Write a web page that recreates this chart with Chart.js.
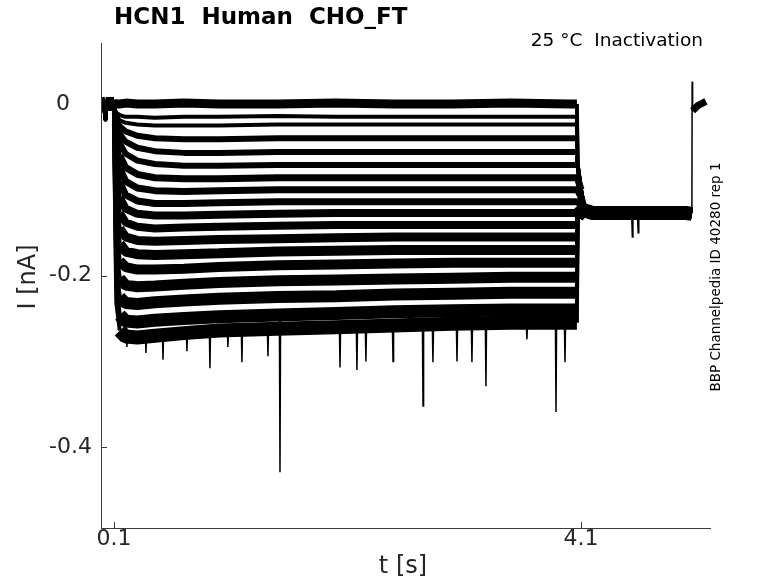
<!DOCTYPE html>
<html>
<head>
<meta charset="utf-8">
<title>HCN1 Human CHO_FT</title>
<script src="https://cdn.jsdelivr.net/npm/chart.js@4.4.1/dist/chart.umd.min.js"></script>
<style>
  html, body { margin: 0; padding: 0; background: #fff; }
  canvas { display: block; }
</style>
</head>
<body>
<canvas id="traces" width="778" height="583"></canvas>
<script>
// tick values and labels
const xTicks = [0.1, 4.1];
const xTickLabels = ['0.1', '4.1'];
const yTicks = [0, -0.2, -0.4];
const yTickLabels = ['0', '-0.2', '-0.4'];

// holding period before the step (s, nA), same for every sweep
const preT = [0, 0.02, 0.025, 0.03, 0.1];
const preI = [0, 0, -0.018, 0, 0];

// step times
const stepT = [0.105, 0.12, 0.15, 0.2, 0.3, 0.45, 0.7, 1.0, 1.5, 2.0, 2.5, 3.0, 3.5, 4.0, 4.065, 4.07, 4.1];

// one array per sweep (nA), top to bottom
const sweep1  = [0.001, 0, 0, 0.001, 0, 0, 0.001, 0, 0, 0.001, 0, 0, 0.001, 0, 0, -0.07, -0.1];
const sweep2  = [-0.006, -0.010, -0.013, -0.015, -0.015, -0.016, -0.015, -0.015, -0.014, -0.015, -0.015, -0.015, -0.015, -0.015, -0.015, -0.07, -0.1];
const sweep3  = [-0.008, -0.014, -0.019, -0.022, -0.024, -0.025, -0.025, -0.025, -0.024, -0.024, -0.024, -0.024, -0.024, -0.024, -0.024, -0.07, -0.1];
const sweep4  = [-0.010, -0.018, -0.026, -0.032, -0.037, -0.040, -0.041, -0.041, -0.040, -0.040, -0.040, -0.040, -0.040, -0.040, -0.040, -0.07, -0.1];
const sweep5  = [-0.012, -0.024, -0.035, -0.044, -0.051, -0.055, -0.057, -0.057, -0.056, -0.056, -0.056, -0.056, -0.056, -0.056, -0.056, -0.07, -0.1];
const sweep6  = [-0.014, -0.031, -0.046, -0.058, -0.066, -0.070, -0.072, -0.072, -0.071, -0.071, -0.071, -0.071, -0.071, -0.071, -0.071, -0.071, -0.1];
const sweep7  = [-0.016, -0.040, -0.060, -0.074, -0.082, -0.086, -0.087, -0.087, -0.086, -0.086, -0.086, -0.086, -0.086, -0.086, -0.086, -0.086, -0.1];
const sweep8  = [-0.019, -0.050, -0.075, -0.090, -0.098, -0.101, -0.102, -0.101, -0.100, -0.100, -0.100, -0.100, -0.100, -0.100, -0.100, -0.100, -0.108];
const sweep9  = [-0.022, -0.063, -0.091, -0.106, -0.113, -0.116, -0.116, -0.115, -0.114, -0.114, -0.114, -0.114, -0.114, -0.114, -0.114, -0.114, -0.118];
const sweep10 = [-0.026, -0.078, -0.109, -0.122, -0.128, -0.130, -0.130, -0.129, -0.128, -0.127, -0.127, -0.127, -0.127, -0.127, -0.127, -0.127, -0.125];
const sweep11 = [-0.030, -0.094, -0.127, -0.138, -0.143, -0.145, -0.144, -0.143, -0.142, -0.141, -0.141, -0.141, -0.141, -0.141, -0.141, -0.130, -0.126];
const sweep12 = [-0.035, -0.112, -0.145, -0.155, -0.159, -0.160, -0.159, -0.158, -0.157, -0.156, -0.155, -0.155, -0.155, -0.155, -0.155, -0.130, -0.126];
const sweep13 = [-0.040, -0.130, -0.163, -0.172, -0.175, -0.176, -0.175, -0.174, -0.172, -0.171, -0.170, -0.170, -0.170, -0.170, -0.170, -0.130, -0.126];
const sweep14 = [-0.046, -0.150, -0.183, -0.190, -0.193, -0.193, -0.192, -0.190, -0.188, -0.187, -0.186, -0.185, -0.185, -0.185, -0.185, -0.130, -0.126];
const sweep15 = [-0.053, -0.170, -0.203, -0.211, -0.213, -0.212, -0.210, -0.208, -0.206, -0.205, -0.204, -0.203, -0.202, -0.202, -0.202, -0.130, -0.126];
const sweep16 = [-0.060, -0.190, -0.225, -0.232, -0.233, -0.231, -0.229, -0.227, -0.225, -0.224, -0.222, -0.221, -0.220, -0.220, -0.220, -0.130, -0.126];
const sweep17 = [-0.068, -0.212, -0.246, -0.253, -0.254, -0.252, -0.250, -0.248, -0.246, -0.244, -0.242, -0.241, -0.240, -0.240, -0.240, -0.130, -0.126];
const sweep18 = [-0.076, -0.232, -0.264, -0.271, -0.272, -0.270, -0.267, -0.264, -0.262, -0.260, -0.258, -0.256, -0.255, -0.255, -0.255, -0.130, -0.126];

// tail after the step, shared by all sweeps
const tailT = [4.13, 4.2, 4.6, 5.0, 5.05];
const tailI = [-0.124, -0.127, -0.127, -0.127, -0.128];

// capacitive spike and return near 0 at the end
const endT = [5.05, 5.052, 5.056, 5.1, 5.17];
const endI = [-0.128, 0.026, -0.008, -0.002, 0.003];

// downward noise spikes: time, start level, tip
const spikeT    = [0.211, 0.374, 0.520, 0.725, 0.922, 1.076, 1.196, 1.419, 1.522, 2.036, 2.181, 2.258, 2.490, 2.747, 2.832, 3.038, 3.166, 3.286, 3.637, 3.886, 3.963, 4.54, 4.59];
const spikeFrom = [-0.27, -0.27, -0.268, -0.266, -0.265, -0.264, -0.264, -0.262, -0.250, -0.262, -0.262, -0.262, -0.261, -0.260, -0.260, -0.259, -0.258, -0.258, -0.257, -0.256, -0.256, -0.133, -0.133];
const spikeTo   = [-0.283, -0.290, -0.298, -0.288, -0.308, -0.283, -0.301, -0.294, -0.429, -0.307, -0.310, -0.300, -0.300, -0.352, -0.301, -0.300, -0.301, -0.329, -0.274, -0.359, -0.301, -0.155, -0.150];

const sweeps = [sweep1, sweep2, sweep3, sweep4, sweep5, sweep6, sweep7, sweep8, sweep9,
                sweep10, sweep11, sweep12, sweep13, sweep14, sweep15, sweep16, sweep17, sweep18];

// thickness stands in for the recording noise, which grows with the current
const lineWidths = [9, 4, 4, 6, 6, 6, 7, 7, 7, 8, 8, 9, 10, 10, 11, 12, 13, 14];

function toPoints(ts, vs) {
    return ts.map((t, i) => ({ x: t, y: vs[i] }));
}

// steep parts (jumps, fast activation) are drawn thinner so the bands keep sharp edges
function steepWidth(ctx) {
    const dx = Math.abs(ctx.p1.x - ctx.p0.x);
    const dy = Math.abs(ctx.p1.y - ctx.p0.y);
    return dy > 4 * dx ? 4 : undefined;
}

const datasets = sweeps.map((s, k) => ({
    data: toPoints(preT, preI).concat(toPoints(stepT, s), toPoints(tailT, tailI)),
    borderColor: '#000',
    borderWidth: lineWidths[k],
    borderJoinStyle: 'bevel',
    borderCapStyle: 'butt',
    segment: { borderWidth: steepWidth },
    pointRadius: 0,
    tension: 0
}));

// spikes, each one separated by a gap
const spikePts = [];
spikeT.forEach((t, i) => {
    spikePts.push({ x: t - 0.005, y: spikeFrom[i] }, { x: t, y: spikeTo[i] }, { x: t + 0.005, y: spikeFrom[i] }, { x: t + 0.006, y: null });
});
datasets.push({ data: spikePts, borderColor: '#000', borderWidth: 1.5, pointRadius: 0, spanGaps: false });

datasets.push({ data: toPoints(endT.slice(0, 3), endI.slice(0, 3)), borderColor: '#000', borderWidth: 1.5, pointRadius: 0 });
datasets.push({ data: toPoints(endT.slice(2), endI.slice(2)), borderColor: '#000', borderWidth: 7, borderCapStyle: 'butt', pointRadius: 0 });

const axisColor = '#3a3a3a';

// inward ticks, labels and all the text round the plot
const decor = {
    id: 'decor',
    beforeDatasetsDraw(chart) {
        const { ctx, scales: { x, y } } = chart;
        ctx.save();
        ctx.strokeStyle = axisColor;
        ctx.lineWidth = 1;
        ctx.beginPath();
        xTicks.forEach(v => {
            const px = Math.round(x.getPixelForValue(v)) + 0.5;
            ctx.moveTo(px, y.bottom);
            ctx.lineTo(px, y.bottom - 6);
        });
        yTicks.forEach(v => {
            const py = Math.round(y.getPixelForValue(v)) + 0.5;
            ctx.moveTo(x.left, py);
            ctx.lineTo(x.left + 6, py);
        });
        ctx.stroke();
        ctx.restore();
    },
    afterDraw(chart) {
        const { ctx, scales: { x, y } } = chart;
        ctx.save();
        ctx.fillStyle = '#262626';
        ctx.font = '22px "DejaVu Sans"';
        ctx.textBaseline = 'middle';
        ctx.textAlign = 'center';
        xTicks.forEach((v, i) => ctx.fillText(xTickLabels[i], x.getPixelForValue(v), y.bottom + 11));
        ctx.textAlign = 'right';
        yTicks.forEach((v, i) => ctx.fillText(yTickLabels[i], v === 0 ? 70 : 92, y.getPixelForValue(v)));

        ctx.font = '24px "DejaVu Sans"';
        ctx.textAlign = 'center';
        ctx.fillText('t [s]', 403, 567);
        ctx.save();
        ctx.translate(29, 277);
        ctx.rotate(-Math.PI / 2);
        ctx.fillText('I [nA]', 0, 0);
        ctx.restore();

        ctx.fillStyle = '#000';
        ctx.font = 'bold 23px "DejaVu Sans"';
        ctx.textAlign = 'left';
        ctx.fillText('HCN1  Human  CHO_FT', 114, 18);

        ctx.font = '18.5px "DejaVu Sans"';
        ctx.textAlign = 'right';
        ctx.fillText('25 °C  Inactivation', 703, 41);

        ctx.font = '13.5px "DejaVu Sans"';
        ctx.textAlign = 'center';
        ctx.translate(716, 277);
        ctx.rotate(-Math.PI / 2);
        ctx.fillText('BBP Channelpedia ID 40280 rep 1', 0, 0);
        ctx.restore();
    }
};

new Chart(document.getElementById('traces').getContext('2d'), {
    type: 'line',
    data: { datasets: datasets },
    options: {
        responsive: false,
        animation: false,
        devicePixelRatio: 1,
        layout: { padding: { left: 0, right: 68, top: 43, bottom: 0 } },
        plugins: { legend: { display: false }, tooltip: { enabled: false } },
        scales: {
            x: {
                type: 'linear',
                min: -0.011,
                max: 5.205,
                grid: { display: false },
                border: { display: true, color: axisColor, width: 1 },
                ticks: { display: false },
                afterFit: s => { s.height = 55; }
            },
            y: {
                type: 'linear',
                min: -0.494,
                max: 0.071,
                grid: { display: false },
                border: { display: true, color: axisColor, width: 1 },
                ticks: { display: false },
                afterFit: s => { s.width = 101; }
            }
        }
    },
    plugins: [decor]
});
</script>
</body>
</html>
